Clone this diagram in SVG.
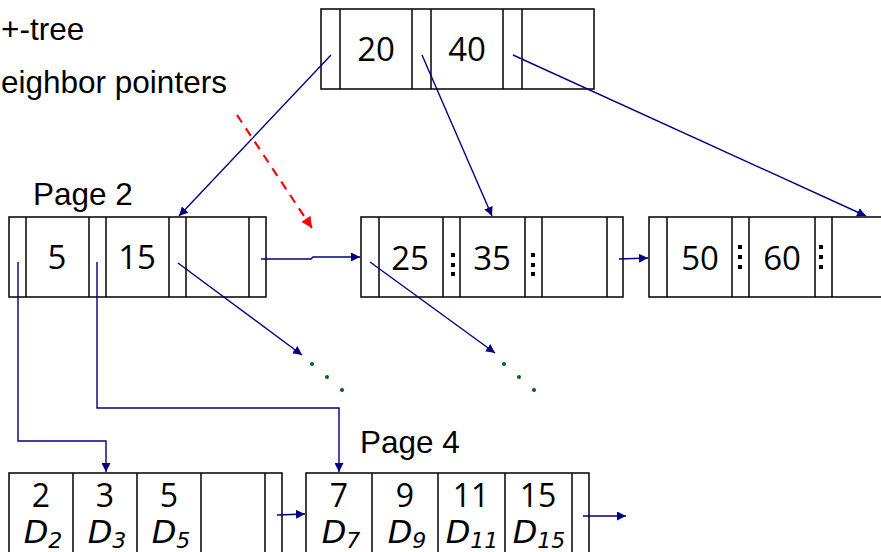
<svg xmlns="http://www.w3.org/2000/svg" width="881" height="552" viewBox="0 0 881 552">
  <style>
    .box { fill: #ffffff; stroke: #000000; stroke-width: 1.5; }
    .div { stroke: #000000; stroke-width: 1.5; }
    .key { font-family: "Open Sans", "Noto Sans", sans-serif; font-size: 33px; fill: #000000; text-anchor: middle; }
    .lkey { font-family: "Open Sans", "Noto Sans", sans-serif; font-size: 32px; fill: #000000; text-anchor: middle; }
    .dat { font-family: "DejaVu Sans", Verdana, sans-serif; font-size: 32px; font-style: italic; fill: #000000; text-anchor: middle; }
    .sub { font-size: 22px; }
    .lbl { font-family: "Liberation Sans", Arial, sans-serif; font-size: 31.5px; fill: #000000; }
    .ptr { fill: none; stroke: #000080; stroke-width: 1.4; }
    .nbr { fill: none; stroke: #ff0000; stroke-width: 2.2; stroke-dasharray: 9 7; }
    .dot { fill: #000000; }
    .more { fill: #006400; }
  </style>
  <defs>
    <marker id="ah" viewBox="0 0 10 10" refX="10" refY="5" markerWidth="9" markerHeight="9" markerUnits="userSpaceOnUse" orient="auto">
      <path d="M0,0 L10,5 L0,10 z" fill="#000080"/>
    </marker>
    <marker id="ahr" viewBox="0 0 10 10" refX="10" refY="5" markerWidth="11" markerHeight="11" markerUnits="userSpaceOnUse" orient="auto">
      <path d="M0,0 L10,5 L0,10 z" fill="#ff0000"/>
    </marker>
  </defs>

  <rect width="881" height="552" fill="#ffffff"/>

  <!-- captions -->
  <text class="lbl" x="1" y="40">+-tree</text>
  <text class="lbl" x="1" y="93">eighbor pointers</text>
  <text class="lbl" x="33" y="205">Page 2</text>
  <text class="lbl" x="360" y="453">Page 4</text>

  <!-- root node -->
  <g id="root">
    <rect class="box" x="321" y="9" width="273" height="80"/>
    <line class="div" x1="340" y1="9" x2="340" y2="89"/>
    <line class="div" x1="412" y1="9" x2="412" y2="89"/>
    <line class="div" x1="431" y1="9" x2="431" y2="89"/>
    <line class="div" x1="503" y1="9" x2="503" y2="89"/>
    <line class="div" x1="522" y1="9" x2="522" y2="89"/>
    <text class="key" x="376" y="61">20</text>
    <text class="key" x="467" y="61">40</text>
  </g>

  <!-- inner node: page 2 -->
  <g id="page2">
    <rect class="box" x="9" y="217" width="257" height="80"/>
    <line class="div" x1="26" y1="217" x2="26" y2="297"/>
    <line class="div" x1="89" y1="217" x2="89" y2="297"/>
    <line class="div" x1="106" y1="217" x2="106" y2="297"/>
    <line class="div" x1="169" y1="217" x2="169" y2="297"/>
    <line class="div" x1="186" y1="217" x2="186" y2="297"/>
    <line class="div" x1="249" y1="217" x2="249" y2="297"/>
    <text class="key" x="57" y="269">5</text>
    <text class="key" x="137" y="269">15</text>
  </g>

  <!-- inner node: 25 / 35 -->
  <g id="inner2535">
    <rect class="box" x="361" y="217" width="262" height="80"/>
    <line class="div" x1="379" y1="217" x2="379" y2="297"/>
    <line class="div" x1="443" y1="217" x2="443" y2="297"/>
    <line class="div" x1="460" y1="217" x2="460" y2="297"/>
    <line class="div" x1="525" y1="217" x2="525" y2="297"/>
    <line class="div" x1="542" y1="217" x2="542" y2="297"/>
    <line class="div" x1="607" y1="217" x2="607" y2="297"/>
    <text class="key" x="410" y="270">25</text>
    <text class="key" x="492" y="270">35</text>
    <rect class="dot" x="451" y="253" width="4" height="4"/>
    <rect class="dot" x="451" y="263" width="4" height="4"/>
    <rect class="dot" x="451" y="272" width="4" height="4"/>
    <rect class="dot" x="531" y="253" width="4" height="4"/>
    <rect class="dot" x="531" y="263" width="4" height="4"/>
    <rect class="dot" x="531" y="272" width="4" height="4"/>
  </g>

  <!-- inner node: 50 / 60 -->
  <g id="inner5060">
    <path class="box" d="M884,217 H649 V297 H884"/>
    <line class="div" x1="667" y1="217" x2="667" y2="297"/>
    <line class="div" x1="732" y1="217" x2="732" y2="297"/>
    <line class="div" x1="749" y1="217" x2="749" y2="297"/>
    <line class="div" x1="815" y1="217" x2="815" y2="297"/>
    <line class="div" x1="832" y1="217" x2="832" y2="297"/>
    <text class="key" x="700" y="270">50</text>
    <text class="key" x="782" y="270">60</text>
    <rect class="dot" x="738" y="245" width="4" height="4"/>
    <rect class="dot" x="738" y="255" width="4" height="4"/>
    <rect class="dot" x="738" y="265" width="4" height="4"/>
    <rect class="dot" x="819" y="245" width="4" height="4"/>
    <rect class="dot" x="819" y="255" width="4" height="4"/>
    <rect class="dot" x="819" y="265" width="4" height="4"/>
  </g>

  <!-- leaf: 2 3 5 -->
  <g id="leaf1">
    <path class="box" d="M9,556 V473 H282 V556"/>
    <line class="div" x1="73" y1="473" x2="73" y2="556"/>
    <line class="div" x1="137" y1="473" x2="137" y2="556"/>
    <line class="div" x1="201" y1="473" x2="201" y2="556"/>
    <line class="div" x1="265" y1="473" x2="265" y2="556"/>
    <text class="lkey" x="41" y="507">2</text>
    <text class="lkey" x="105" y="507">3</text>
    <text class="lkey" x="169" y="507">5</text>
    <text class="dat" x="43" y="543">D<tspan class="sub" dy="5">2</tspan></text>
    <text class="dat" x="107" y="543">D<tspan class="sub" dy="5">3</tspan></text>
    <text class="dat" x="171" y="543">D<tspan class="sub" dy="5">5</tspan></text>
  </g>

  <!-- leaf: page 4 -->
  <g id="page4">
    <path class="box" d="M306,556 V473 H589 V556"/>
    <line class="div" x1="372" y1="473" x2="372" y2="556"/>
    <line class="div" x1="438" y1="473" x2="438" y2="556"/>
    <line class="div" x1="505" y1="473" x2="505" y2="556"/>
    <line class="div" x1="572" y1="473" x2="572" y2="556"/>
    <text class="lkey" x="339" y="507">7</text>
    <text class="lkey" x="405" y="507">9</text>
    <text class="lkey" x="471" y="507">11</text>
    <text class="lkey" x="538" y="507">15</text>
    <text class="dat" x="341" y="543">D<tspan class="sub" dy="5">7</tspan></text>
    <text class="dat" x="407" y="543">D<tspan class="sub" dy="5">9</tspan></text>
    <text class="dat" x="472" y="543">D<tspan class="sub" dy="5">11</tspan></text>
    <text class="dat" x="539" y="543">D<tspan class="sub" dy="5">15</tspan></text>
  </g>

  <!-- connectors -->
  <g id="connectors">
    <line class="ptr" x1="331" y1="55" x2="179" y2="216" marker-end="url(#ah)"/>
    <line class="ptr" x1="422" y1="55" x2="492" y2="216" marker-end="url(#ah)"/>
    <line class="ptr" x1="513" y1="55" x2="866" y2="216" marker-end="url(#ah)"/>
    <polyline class="ptr" points="261,259 311,259 313,257 360,257" marker-end="url(#ah)"/>
    <line class="ptr" x1="619" y1="259" x2="648" y2="258" marker-end="url(#ah)"/>
    <line class="ptr" x1="178" y1="263" x2="302" y2="355" marker-end="url(#ah)"/>
    <line class="ptr" x1="370" y1="262" x2="495" y2="353" marker-end="url(#ah)"/>
    <polyline class="ptr" points="18,262 18,441 106,441 106,472" marker-end="url(#ah)"/>
    <polyline class="ptr" points="97,262 97,408 339,408 339,472" marker-end="url(#ah)"/>
    <line class="ptr" x1="277" y1="515" x2="305" y2="514" marker-end="url(#ah)"/>
    <line class="ptr" x1="583" y1="516" x2="626" y2="516" marker-end="url(#ah)"/>
    <line class="nbr" x1="237" y1="115" x2="312" y2="228" marker-end="url(#ahr)"/>
    <circle class="more" cx="312" cy="364" r="2"/>
    <circle class="more" cx="327" cy="377" r="2"/>
    <circle class="more" cx="342" cy="390" r="2"/>
    <circle class="more" cx="504" cy="364" r="2"/>
    <circle class="more" cx="519" cy="377" r="2"/>
    <circle class="more" cx="534" cy="390" r="2"/>
  </g>
</svg>
